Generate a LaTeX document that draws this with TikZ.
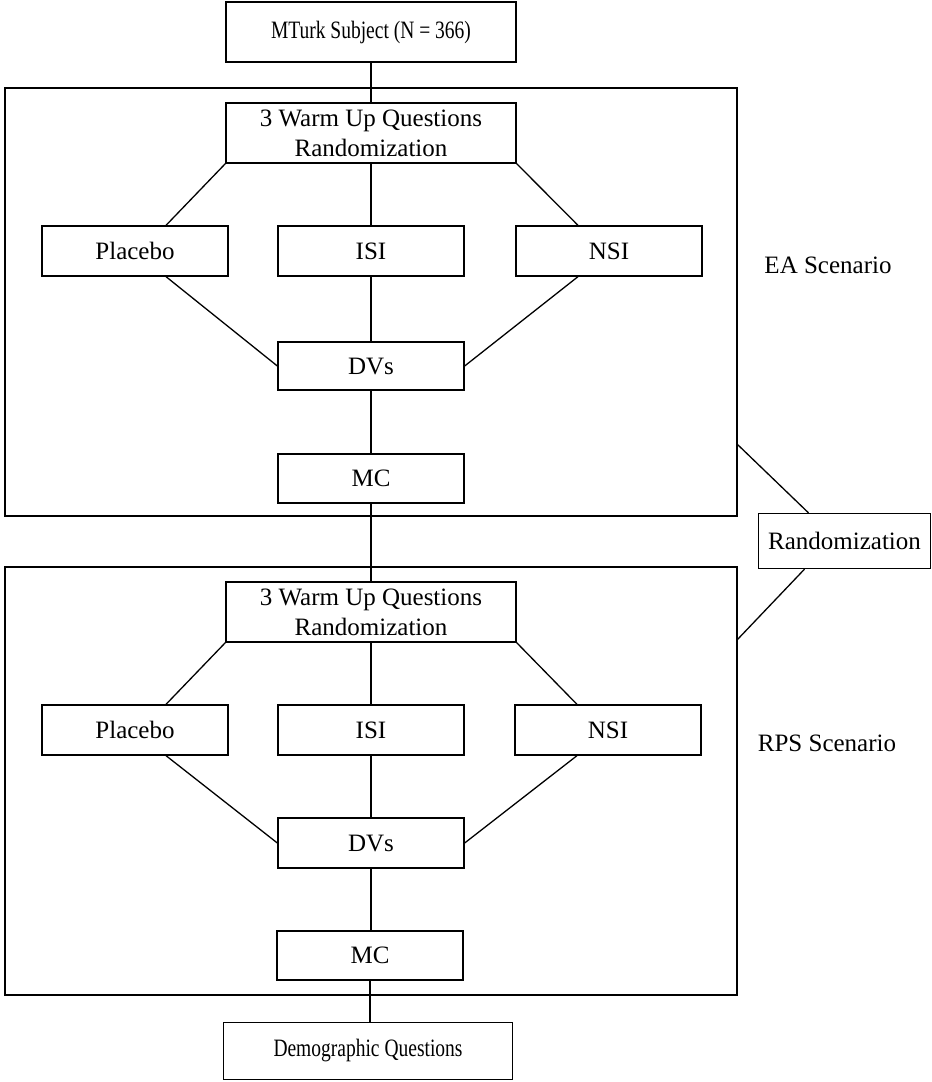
\documentclass[tikz,border=0pt]{standalone}
\usepackage{fontspec}
\setmainfont{Liberation Serif}
\begin{document}
\begin{tikzpicture}[x=1pt,y=-1pt,
  every node/.style={font=\fontsize{25}{30}\selectfont, inner sep=0pt},
  bx/.style={draw, line width=1.3pt, minimum width=186pt, minimum height=49pt, align=center},
  wide/.style={bx, minimum width=290pt, minimum height=60pt},
  frame/.style={draw, line width=1.3pt, minimum width=732pt, minimum height=428pt},
  ln/.style={line width=1.3pt}]
\useasboundingbox (0,0) rectangle (932,1082);
% frames
\node[frame] (box1) at (371,302) {};
\node[frame] (box2) at (371,781) {};
% top
\node[wide] (mturk) at (371,32) {\scalebox{0.78}[1]{MTurk Subject (N = 366)}};
% section 1
\node[wide] (wu1) at (371,133) {3 Warm Up Questions\\Randomization};
\node[bx, minimum height=50pt] (plac1) at (135,251) {Placebo};
\node[bx, minimum height=50pt] (isi1) at (371,251) {ISI};
\node[bx, minimum height=50pt] (nsi1) at (609,251) {NSI};
\node[bx, minimum height=48pt] (dvs1) at (371,366) {DVs};
\node[bx] (mc1) at (371,478.5) {MC};
\node (ea) at (828,265) {EA Scenario};
% section 2
\node[wide] (wu2) at (371,612) {3 Warm Up Questions\\Randomization};
\node[bx, minimum height=50pt] (plac2) at (135,730) {Placebo};
\node[bx, minimum height=50pt] (isi2) at (371,730) {ISI};
\node[bx, minimum height=50pt] (nsi2) at (608,730) {NSI};
\node[bx, minimum height=50pt] (dvs2) at (371,843) {DVs};
\node[bx] (mc2) at (370,955.5) {MC};
\node (rps) at (827,743) {RPS Scenario};
% randomization
\node[bx, minimum width=172pt, minimum height=55pt] (rand) at (844.5,541) {Randomization};
% demographic
\node[wide, minimum width=289pt, minimum height=57pt] (demo) at (368,1051) {\scalebox{0.78}[1]{Demographic Questions}};
\coordinate (r1) at (737,444);
\coordinate (r2) at (737,640);
% connectors
\draw[ln] (mturk.south) -- (wu1.north);
\draw[ln] (wu1.south west) -- ([xshift=31pt]plac1.north);
\draw[ln] (wu1.south) -- (isi1.north);
\draw[ln] (wu1.south east) -- ([xshift=-31pt]nsi1.north);
\draw[ln] ([xshift=31pt]plac1.south) -- (dvs1.west);
\draw[ln] (isi1.south) -- (dvs1.north);
\draw[ln] ([xshift=-31pt]nsi1.south) -- (dvs1.east);
\draw[ln] (dvs1.south) -- (mc1.north);
\draw[ln] (mc1.south) -- (wu2.north);
\draw[ln] (wu2.south west) -- ([xshift=31pt]plac2.north);
\draw[ln] (wu2.south) -- (isi2.north);
\draw[ln] (wu2.south east) -- ([xshift=-31pt]nsi2.north);
\draw[ln] ([xshift=31pt]plac2.south) -- (dvs2.west);
\draw[ln] (isi2.south) -- (dvs2.north);
\draw[ln] ([xshift=-31pt]nsi2.south) -- (dvs2.east);
\draw[ln] (dvs2.south) -- (dvs2.south |- mc2.north);
\draw[ln] (mc2.south) -- (mc2.south |- demo.north);
\draw[ln] (r1) -- ([xshift=-36pt]rand.north);
\draw[ln] ([xshift=-40pt]rand.south) -- (r2);
\end{tikzpicture}
\end{document}
